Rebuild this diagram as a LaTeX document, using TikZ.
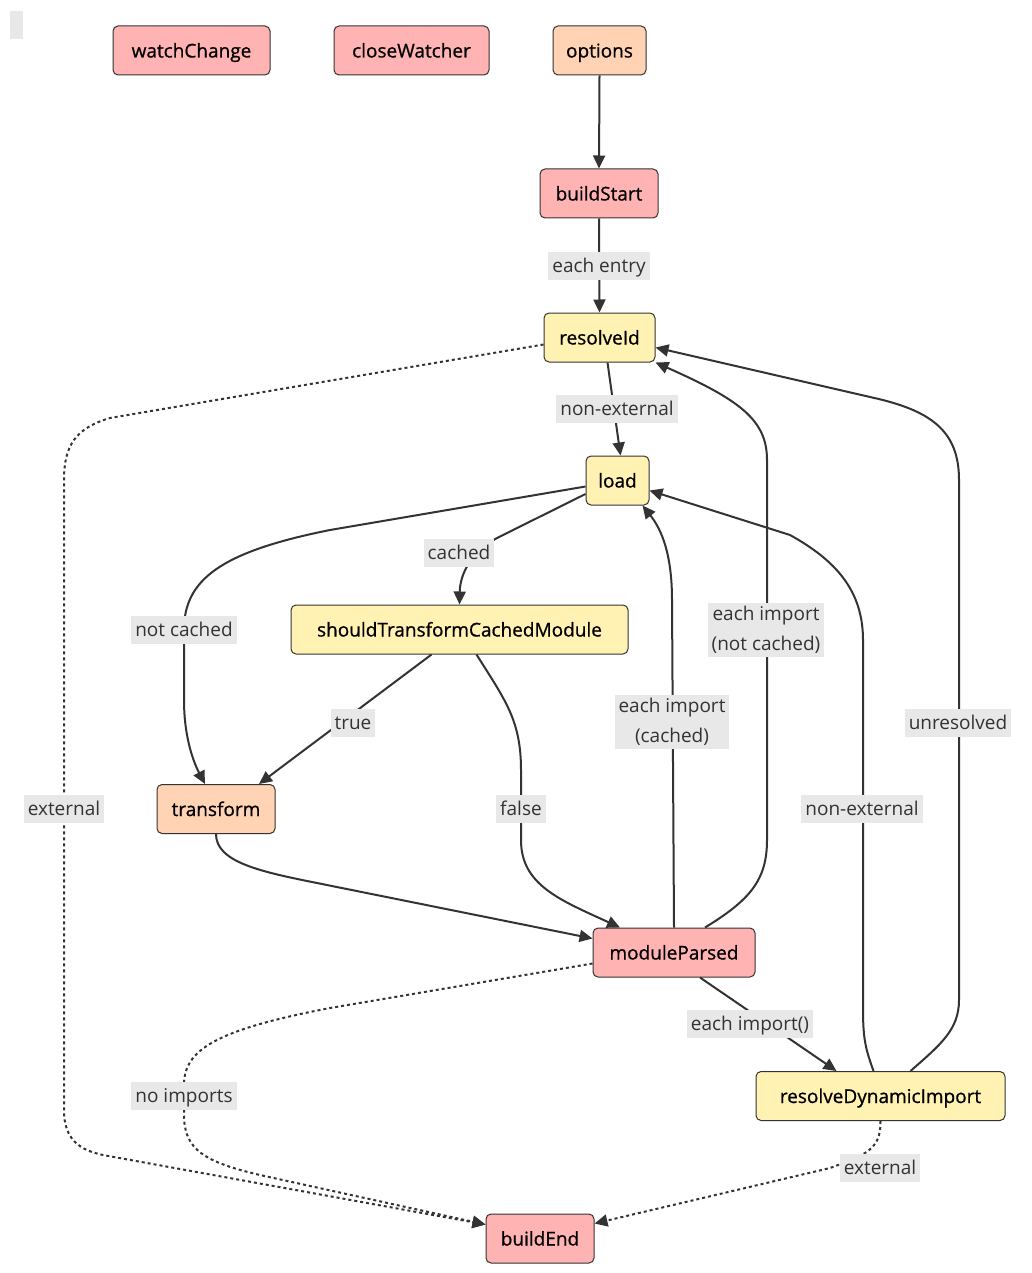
\documentclass[tikz,border=0pt]{standalone}
\usepackage{fontspec}
\setmainfont{Open Sans}
\newfontfamily\hookfont{Open Sans}[FakeBold=0.8]
\usetikzlibrary{arrows.meta,positioning,calc}

\definecolor{edgegray}{HTML}{333333}
\definecolor{hookred}{HTML}{FFB3B3}
\definecolor{hookpeach}{HTML}{FFD3B3}
\definecolor{hookyellow}{HTML}{FFF2B3}
\definecolor{labelbg}{HTML}{E8E8E8}

\tikzset{
  hook/.style={draw=edgegray, line width=1pt, rounded corners=5pt, minimum height=49pt,
    inner xsep=0pt, text height=14pt, text depth=0pt, text=black,
    font=\hookfont\fontsize{19}{22}\selectfont},
  redhook/.style={hook, fill=hookred},
  peachhook/.style={hook, fill=hookpeach},
  yellowhook/.style={hook, fill=hookyellow},
  flow/.style={draw=edgegray, line width=2pt, -{Triangle[length=13pt,width=12pt]}},
  skip/.style={flow, dash pattern=on 3pt off 3pt},
  edgelabel2/.style={fill=labelbg, text=edgegray, inner xsep=4pt, inner ysep=3pt,
    align=center, font=\fontsize{19}{30}\selectfont},
  edgelabel/.style={edgelabel2, text height=15.5pt, text depth=3.5pt, inner ysep=4.5pt},
}

\begin{document}
\begin{tikzpicture}[x=1pt, y=-1pt]
  \useasboundingbox (0,0) rectangle (1032,1273);
  \fill[labelbg] (10,11) rectangle (23,39);

  % hooks
  \node[redhook, minimum width=157pt] (wchange) at (191.5,50.5) {watchChange};
  \node[redhook, minimum width=155pt] (cwatch) at (411.5,50.5) {closeWatcher};
  \node[peachhook, minimum width=93pt] (opt) at (599.5,50.5) {options};
  \node[redhook, minimum width=118pt] (bstart) at (599,193.5) {buildStart};
  \node[yellowhook, minimum width=111pt] (rid) at (599.5,337.5) {resolveId};
  \node[yellowhook, minimum width=63pt] (load) at (617.5,480.5) {load};
  \node[yellowhook, minimum width=337pt] (sht) at (459.5,629.5) {shouldTransformCachedModule};
  \node[peachhook, minimum width=118pt] (tform) at (216,809) {transform};
  \node[redhook, minimum width=162pt] (mp) at (674,952.5) {moduleParsed};
  \node[yellowhook, minimum width=249pt] (rdi) at (880.5,1096) {resolveDynamicImport};
  \node[redhook, minimum width=108pt] (bend) at (540,1238.5) {buildEnd};

  % connectors
  \draw[flow] (opt.south) -- (bstart.north);
  \draw[flow] (bstart.south) -- (rid.north);
  \draw[flow] ([xshift=8pt]rid.south) -- ([xshift=3pt]load.north);
  \draw[skip] ([yshift=-7pt]rid.west) -- (110,418)
    .. controls (76,428) and (64,445) .. (64,480) -- (64,1110)
    .. controls (64,1140) and (80,1150) .. (103,1155) -- ([yshift=14pt]bend.west);
  \draw[flow] ([yshift=-13.5pt]load.west) -- (497,538)
    .. controls (470,553) and (460,575) .. (sht.north);
  \draw[flow] ([yshift=-6pt]load.west) -- (330,530)
    .. controls (220,552) and (184,580) .. (184,630) -- (184,700)
    .. controls (184,740) and (195,765) .. ([xshift=-11pt]tform.north);
  \draw[flow] ([xshift=-28pt]sht.south) -- ([xshift=43pt]tform.north);
  \draw[flow] ([xshift=17pt]sht.south) .. controls (505,700) and (521,720) .. (521,770)
    -- (521,840) .. controls (521,885) and (560,900) .. ([xshift=-54pt]mp.north);
  \draw[flow] (tform.south) .. controls (216,862) and (260,871.6) .. (317,883)
    -- ([yshift=14pt]mp.west);
  \draw[flow] (mp.north) -- (672,600) .. controls (672,555) and (662,530) .. ([xshift=25pt]load.south);
  \draw[flow] ([xshift=31pt]mp.north) .. controls (750,900) and (767,880) .. (767,840)
    -- (767,460) .. controls (767,420) and (740,400) .. (rid.south east);
  \draw[flow] ([xshift=26pt]mp.south) -- ([xshift=-44pt]rdi.north);
  \draw[skip] ([yshift=-11pt]mp.west) -- (330,1008)
    .. controls (215,1030) and (184,1050) .. (184,1085) -- (184,1115)
    .. controls (184,1150) and (205,1162) .. (260,1175) -- ([yshift=14pt]bend.west);
  \draw[flow] ([xshift=-7pt]rdi.north) .. controls (866,1050) and (863,1040) .. (863,1010)
    -- (863,640) .. controls (863,590) and (835,560) .. (790,535) -- ([yshift=-10pt]load.east);
  \draw[flow] ([xshift=30pt]rdi.north) .. controls (940,1045) and (959,1030) .. (959,1000)
    -- (959,480) .. controls (959,430) and (930,410) .. (870,397) -- ([yshift=-10pt]rid.east);
  \draw[skip] (rdi.south) .. controls (881,1150) and (865,1155) .. (830,1168)
    -- ([yshift=15pt]bend.east);

  % edge labels
  \node[edgelabel] (l-entry) at (599,266) {each entry};
  \node[edgelabel] (l-ridnonext) at (617,409) {non-external};
  \node[edgelabel] (l-ridext) at (64,809) {external};
  \node[edgelabel] (l-cached) at (459,553) {cached};
  \node[edgelabel] (l-notcached) at (184,630) {not cached};
  \node[edgelabel] (l-true) at (353,723) {true};
  \node[edgelabel] (l-false) at (521,809) {false};
  \node[edgelabel2] (l-impcached) at (672,722) {each import\\(cached)};
  \node[edgelabel2] (l-impnotcached) at (766,630) {each import\\(not cached)};
  \node[edgelabel] (l-unres) at (958,723) {unresolved};
  \node[edgelabel] (l-rdinonext) at (862,809) {non-external};
  \node[edgelabel] (l-dynimp) at (750,1024) {each import()};
  \node[edgelabel] (l-noimp) at (184,1096) {no imports};
  \node[edgelabel] (l-rdiext) at (880,1168) {external};
\end{tikzpicture}
\end{document}
